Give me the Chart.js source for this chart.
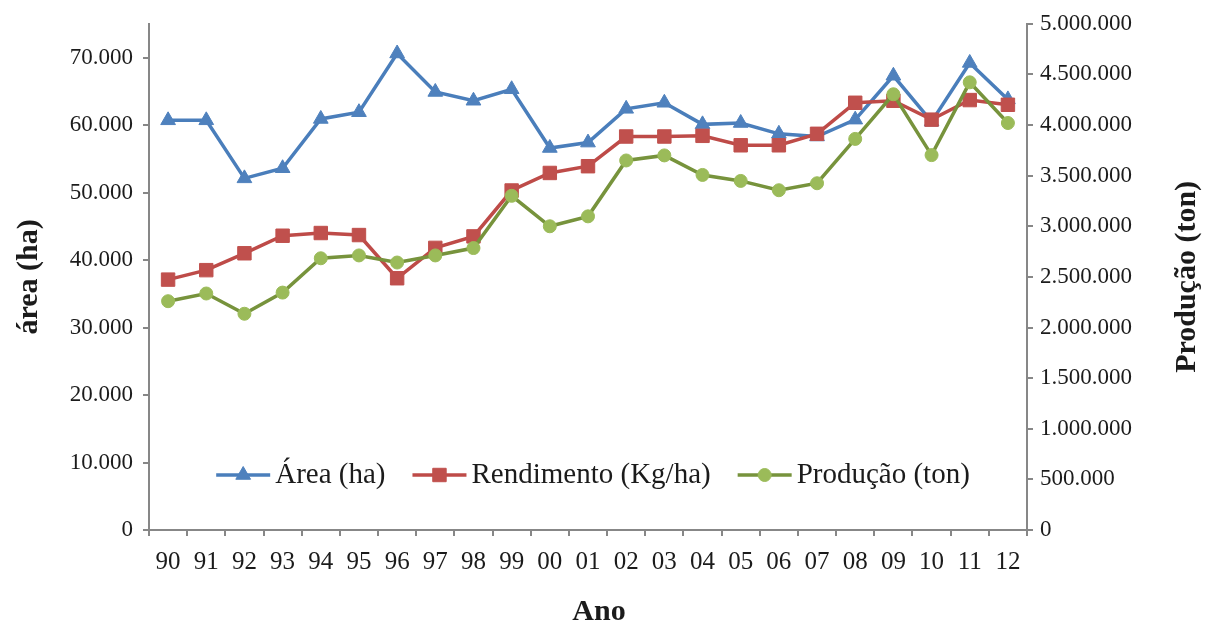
<!DOCTYPE html>
<html>
<head>
<meta charset="utf-8">
<script src="https://cdn.jsdelivr.net/npm/chart.js@4/dist/chart.umd.min.js"></script>
<style>
  html, body { margin: 0; padding: 0; background: #ffffff; }
  #wrap { width: 1212px; height: 627px; }
</style>
</head>
<body>
<div id="wrap"><canvas id="grafico" width="1212" height="627"></canvas></div>
<script>
// Anos da série histórica (1990–2012)
const anos = ['90','91','92','93','94','95','96','97','98','99','00','01','02','03','04','05','06','07','08','09','10','11','12'];

// Área colhida (ha) – eixo esquerdo
const area = [60700, 60700, 52100, 53600, 60900, 61900, 70600, 64900, 63600, 65300, 56600, 57400,
              62400, 63300, 60100, 60300, 58700, 58300, 60800, 67300, 60500, 69200, 63800];

// Rendimento (Kg/ha) – eixo esquerdo
const rendimento = [37100, 38500, 41000, 43600, 44000, 43700, 37300, 41800, 43500, 50300, 52900, 53900,
                    58300, 58300, 58400, 57000, 57000, 58700, 63300, 63600, 60800, 63700, 63000];

// Produção (ton) – eixo direito
const producao = [2260000, 2336000, 2136000, 2345000, 2684000, 2712000, 2642000, 2712000, 2785000, 3301000,
                  3000000, 3098000, 3650000, 3700000, 3507000, 3448000, 3356000, 3425000, 3863000, 4304000,
                  3703000, 4422000, 4020000];

// Marcas dos eixos
const ticksArea = [0, 10000, 20000, 30000, 40000, 50000, 60000, 70000];
const ticksProducao = [0, 500000, 1000000, 1500000, 2000000, 2500000, 3000000, 3500000, 4000000, 4500000, 5000000];

const SERIF = '"Liberation Serif", "Times New Roman", serif';
const CINZA = '#878787';
const TEXTO = '#1b1b1b';

// Separador de milhar com ponto
function milhar(v) {
  return String(Math.round(v)).replace(/\B(?=(\d{3})+(?!\d))/g, '.');
}

const series = [
  { label: 'Área (ha)', data: area, eixo: 'y', linha: '#4A7EBB', marca: '#4F81BD', estilo: 'triangle', raio: 8.5, ordem: 2 },
  { label: 'Rendimento (Kg/ha)', data: rendimento, eixo: 'y', linha: '#BE4B48', marca: '#C0504D', estilo: 'rect', raio: 9.5, ordem: 1 },
  { label: 'Produção (ton)', data: producao, eixo: 'y2', linha: '#77933C', marca: '#9BBB59', estilo: 'circle', raio: 6.5, ordem: 0 }
];

// Legenda desenhada dentro da área do gráfico
const legendaInterna = {
  id: 'legendaInterna',
  afterDatasetsDraw(chart) {
    const ctx = chart.ctx;
    const yc = 475;
    const linhaLen = 54, gapTexto = 5, gapItem = 27;
    ctx.save();
    ctx.font = '29px ' + SERIF;
    const larguras = series.map(s => ctx.measureText(s.label).width);
    let total = 0;
    series.forEach((s, i) => { total += linhaLen + gapTexto + larguras[i]; });
    total += gapItem * (series.length - 1);
    let x = 593 - total / 2;
    series.forEach((s, i) => {
      ctx.strokeStyle = s.linha;
      ctx.lineWidth = 3.5;
      ctx.lineCap = 'butt';
      ctx.beginPath();
      ctx.moveTo(x, yc);
      ctx.lineTo(x + linhaLen, yc);
      ctx.stroke();
      ctx.fillStyle = s.marca;
      ctx.strokeStyle = s.marca;
      ctx.lineWidth = 1;
      Chart.helpers.drawPoint(ctx, {
        pointStyle: s.estilo, radius: s.raio, borderWidth: 1, rotation: 0
      }, x + linhaLen / 2, yc);
      ctx.fillStyle = TEXTO;
      ctx.textAlign = 'left';
      ctx.textBaseline = 'middle';
      ctx.fillText(s.label, x + linhaLen + gapTexto, yc);
      x += linhaLen + gapTexto + larguras[i] + gapItem;
    });
    ctx.restore();
  }
};

// Títulos dos eixos
const titulosEixos = {
  id: 'titulosEixos',
  afterDraw(chart) {
    const ctx = chart.ctx;
    const a = chart.chartArea;
    const meioY = (a.top + a.bottom) / 2;
    ctx.save();
    ctx.fillStyle = TEXTO;
    ctx.font = 'bold 30px ' + SERIF;
    ctx.textAlign = 'center';
    ctx.textBaseline = 'middle';

    ctx.save();
    ctx.translate(29, meioY);
    ctx.rotate(-Math.PI / 2);
    ctx.fillText('área (ha)', 0, 0);
    ctx.restore();

    ctx.save();
    ctx.translate(1187, meioY);
    ctx.rotate(-Math.PI / 2);
    ctx.fillText('Produção (ton)', 0, 0);
    ctx.restore();

    ctx.fillText('Ano', 599, 612);
    ctx.restore();
  }
};

new Chart(document.getElementById('grafico'), {
  type: 'line',
  data: {
    labels: anos,
    datasets: series.map(s => ({
      label: s.label,
      data: s.data,
      yAxisID: s.eixo,
      order: s.ordem,
      borderColor: s.linha,
      borderWidth: 3.5,
      backgroundColor: s.marca,
      pointStyle: s.estilo,
      pointRadius: s.raio,
      pointBorderColor: s.marca,
      pointBackgroundColor: s.marca,
      pointBorderWidth: 1,
      tension: 0,
      fill: false
    }))
  },
  options: {
    responsive: false,
    animation: false,
    devicePixelRatio: 1,
    layout: { padding: { top: 20, left: 0, right: 0, bottom: 0 } },
    plugins: {
      legend: { display: false },
      tooltip: { enabled: false }
    },
    scales: {
      x: {
        type: 'category',
        offset: true,
        afterFit(scale) { scale.height = 97; },
        grid: {
          offset: true,
          drawOnChartArea: false,
          drawTicks: true,
          tickLength: 6,
          color: CINZA,
          lineWidth: 2
        },
        border: { display: true, color: CINZA, width: 2 },
        ticks: {
          color: TEXTO,
          font: { family: SERIF, size: 25 },
          padding: 11,
          maxRotation: 0,
          autoSkip: false
        }
      },
      y: {
        position: 'left',
        min: 0,
        max: 75000,
        afterFit(scale) { scale.width = 149; },
        afterBuildTicks(scale) { scale.ticks = ticksArea.map(v => ({ value: v })); },
        grid: {
          drawOnChartArea: false,
          drawTicks: true,
          tickLength: 6,
          color: CINZA,
          lineWidth: 2
        },
        border: { display: true, color: CINZA, width: 2 },
        ticks: {
          color: TEXTO,
          font: { family: SERIF, size: 23 },
          padding: 10,
          callback: v => milhar(v)
        }
      },
      y2: {
        position: 'right',
        min: 0,
        max: 5000000,
        afterFit(scale) { scale.width = 185; },
        afterBuildTicks(scale) { scale.ticks = ticksProducao.map(v => ({ value: v })); },
        grid: {
          drawOnChartArea: false,
          drawTicks: true,
          tickLength: 6,
          color: CINZA,
          lineWidth: 2
        },
        border: { display: true, color: CINZA, width: 2 },
        ticks: {
          color: TEXTO,
          font: { family: SERIF, size: 23 },
          padding: 7,
          callback: v => milhar(v)
        }
      }
    }
  },
  plugins: [legendaInterna, titulosEixos]
});
</script>
</body>
</html>
